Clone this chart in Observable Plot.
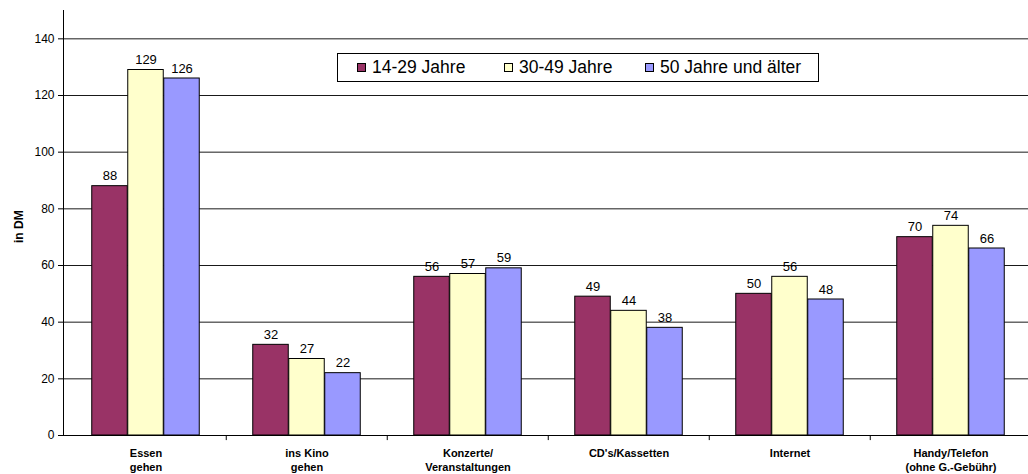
<!DOCTYPE html>
<html>
<head>
<meta charset="utf-8">
<script src="https://cdn.jsdelivr.net/npm/d3@7"></script>
<script src="https://cdn.jsdelivr.net/npm/@observablehq/plot@0.6"></script>
<style>
  html, body { margin: 0; padding: 0; background: #fff; }
  #wrap { position: relative; width: 1028px; height: 474px; font-family: "Liberation Sans", Arial, sans-serif; }
  #legend { position: absolute; left: 337px; top: 53px; width: 480px; height: 27px; border: 1px solid #000; background: #fff; font-size: 17.5px; }
  .item { position: absolute; top: 3px; display: flex; align-items: center; height: 20px; white-space: nowrap; }
  .sw { width: 7px; height: 7px; border: 1px solid #000; margin-right: 6px; }
</style>
</head>
<body>
<div id="wrap"></div>
<script>
const categories = ["Essen\ngehen", "ins Kino\ngehen", "Konzerte/\nVeranstaltungen", "CD's/Kassetten", "Internet", "Handy/Telefon\n(ohne G.-Gebühr)"];
const seriesNames = ["14-29 Jahre", "30-49 Jahre", "50 Jahre und älter"];
const seriesColors = ["#993366", "#FFFFCC", "#9999FF"];
const values1429 = [88, 32, 56, 49, 50, 70];
const values3049 = [129, 27, 57, 44, 56, 74];
const values50 = [126, 22, 59, 38, 48, 66];
const yTicks = [0, 20, 40, 60, 80, 100, 120, 140];
const yLabel = "in DM";

const seriesValues = [values1429, values3049, values50];
const barW = 36;
const x0 = 63, x1 = 1032;
const step = (x1 - x0) / categories.length;
const inset = (step - barW) / 2;
const offsets = [-barW, 0, barW];

const marks = [
  Plot.gridY(yTicks.slice(1), {stroke: "#000", strokeOpacity: 0.9}),
];
seriesValues.forEach((vals, i) => {
  const data = categories.map((c, j) => ({cat: c, v: vals[j]}));
  marks.push(Plot.barY(data, {x: "cat", y: "v", fill: seriesColors[i], stroke: "#000", strokeWidth: 1, dx: offsets[i], insetLeft: inset, insetRight: inset}));
  marks.push(Plot.text(data, {x: "cat", y: "v", text: d => String(d.v), dx: offsets[i], dy: -6, lineAnchor: "bottom", fontSize: 13, fill: "#000"}));
});
marks.push(
  Plot.ruleY([0], {stroke: "#000"}),
  Plot.frame({anchor: "left", stroke: "#000"}),
  Plot.ruleX(categories.slice(1), {x: d => d, dx: -step / 2, y1: 0, y2: -1.8, stroke: "#000"}),
  Plot.axisY(yTicks, {tickSize: 5, tickPadding: 4, fontSize: 12, label: null, stroke: "#000", fill: "#000"}),
  Plot.axisX({tickSize: 0, tickPadding: 12, fontSize: 11, fontWeight: "bold", lineHeight: 1.25, label: null, fill: "#000"}),
  Plot.text([yLabel], {text: d => d, frameAnchor: "left", rotate: -90, dx: -44, dy: 20, fontWeight: "bold", fontSize: 12, fill: "#000"})
);

const chart = Plot.plot({
  width: 1028,
  height: 474,
  marginTop: 10,
  marginBottom: 39,
  marginLeft: x0,
  marginRight: 0,
  style: {fontFamily: "'Liberation Sans', Arial, sans-serif", background: "#fff", overflow: "visible"},
  x: {domain: categories, range: [x0, x1], padding: 0},
  y: {domain: [0, 150], range: [435, 10]},
  marks
});
const wrap = document.getElementById("wrap");
wrap.appendChild(chart);

const legend = document.createElement("div");
legend.id = "legend";
const itemLefts = [19, 166, 307];
seriesNames.forEach((name, i) => {
  const it = document.createElement("div");
  it.className = "item";
  it.style.left = itemLefts[i] + "px";
  const sw = document.createElement("div");
  sw.className = "sw";
  sw.style.background = seriesColors[i];
  const t = document.createElement("span");
  t.textContent = name;
  it.appendChild(sw);
  it.appendChild(t);
  legend.appendChild(it);
});
wrap.appendChild(legend);
</script>
</body>
</html>
